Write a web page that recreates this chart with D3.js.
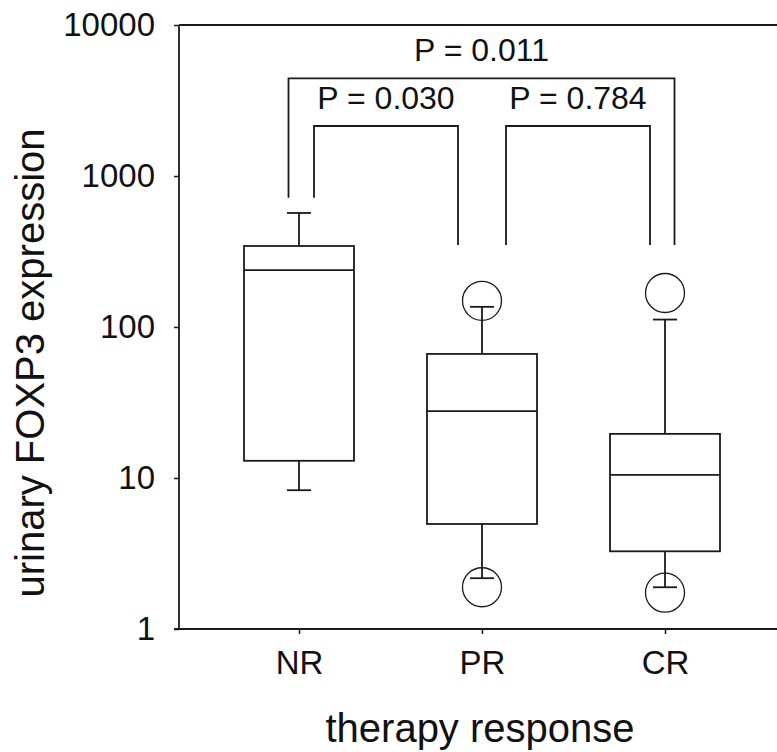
<!DOCTYPE html>
<html>
<head>
<meta charset="utf-8">
<script src="https://cdn.jsdelivr.net/npm/d3@7"></script>
<style>
  html, body { margin: 0; padding: 0; background: #fff; }
  svg { display: block; }
  text { font-family: "Liberation Sans", Arial, sans-serif; fill: #111; }
</style>
</head>
<body>
<svg id="chart" width="777" height="752"></svg>
<script>
// Box plot summary per therapy-response group (log scale)
const groups = ["NR", "PR", "CR"];
const lowerWhisker = [8.3, 2.17, 1.89];
const q1 = [13.0, 4.96, 3.27];
const median = [238, 27.7, 10.5];
const q3 = [344, 66.3, 19.6];
const upperWhisker = [569, 136, 112];
const outliers = [[], [1.89, 149], [1.74, 168]];

const yTicks = [1, 10, 100, 1000, 10000];

// Pairwise comparisons drawn as brackets above the boxes
const comparePairs = [["NR", "PR"], ["PR", "CR"], ["NR", "CR"]];
const pLabels = ["P = 0.030", "P = 0.784", "P = 0.011"];
const bracketTop = [2143, 2143, 4436];
const bracketLegLeft = [718, 349, 718];
const bracketLegRight = [349, 349, 349];

const W = 777, H = 752;
const plotLeft = 179, plotTop = 25, plotBottom = 629, plotRight = 800;

const svg = d3.select("#chart");
svg.append("rect").attr("width", W).attr("height", H).attr("fill", "#fff");

const y = d3.scaleLog().domain([1, 10000]).range([plotBottom, plotTop]);
const x = d3.scalePoint().domain(groups).range([plotLeft + 120, plotLeft + 486]);

const stroke = "#1a1a1a";
const lw = 1.8;

// Frame: top border and the two axes
svg.append("line").attr("x1", plotLeft).attr("x2", plotRight)
  .attr("y1", plotTop).attr("y2", plotTop)
  .attr("stroke", stroke).attr("stroke-width", lw);

const yAxis = d3.axisLeft(y).tickValues(yTicks).tickFormat(d3.format("d"))
  .tickSize(5).tickPadding(19);
const gy = svg.append("g").attr("transform", `translate(${plotLeft},0)`).call(yAxis);
gy.select(".domain").attr("stroke", stroke).attr("stroke-width", lw)
  .attr("d", `M0,${plotTop}V${plotBottom}`);
gy.selectAll(".tick line").attr("stroke", stroke).attr("stroke-width", 1.5);
gy.selectAll(".tick text").style("font-size", "33px").attr("fill", "#111")
  .attr("font-family", "Liberation Sans, Arial, sans-serif");

const xAxis = d3.axisBottom(x).tickSize(5).tickPadding(17);
const gx = svg.append("g").attr("transform", `translate(0,${plotBottom})`).call(xAxis);
gx.select(".domain").attr("stroke", stroke).attr("stroke-width", lw)
  .attr("d", `M${plotLeft - 5},0H${plotRight}`);
gx.selectAll(".tick line").attr("stroke", stroke).attr("stroke-width", 1.5);
gx.selectAll(".tick text").style("font-size", "33px").attr("fill", "#111")
  .attr("font-family", "Liberation Sans, Arial, sans-serif");

// Axis titles
svg.append("text").attr("x", 480).attr("y", 742).attr("text-anchor", "middle")
  .style("font-size", "40px").text("therapy response");
svg.append("text")
  .attr("transform", `translate(44,${(plotTop + plotBottom) / 2 + 36}) rotate(-90)`)
  .attr("text-anchor", "middle").style("font-size", "40px")
  .text("urinary FOXP3 expression");

// Boxes
const boxW = 110, capW = 24;
const boxes = svg.append("g");
groups.forEach((g, i) => {
  const cx = x(g);
  const gg = boxes.append("g").attr("stroke", stroke).attr("stroke-width", lw).attr("fill", "none");
  // whiskers
  gg.append("line").attr("x1", cx).attr("x2", cx).attr("y1", y(q3[i])).attr("y2", y(upperWhisker[i]));
  gg.append("line").attr("x1", cx).attr("x2", cx).attr("y1", y(q1[i])).attr("y2", y(lowerWhisker[i]));
  gg.append("line").attr("x1", cx - capW / 2).attr("x2", cx + capW / 2)
    .attr("y1", y(upperWhisker[i])).attr("y2", y(upperWhisker[i]));
  gg.append("line").attr("x1", cx - capW / 2).attr("x2", cx + capW / 2)
    .attr("y1", y(lowerWhisker[i])).attr("y2", y(lowerWhisker[i]));
  // box and median
  gg.append("rect").attr("x", cx - boxW / 2).attr("width", boxW)
    .attr("y", y(q3[i])).attr("height", y(q1[i]) - y(q3[i])).attr("fill", "#fff");
  gg.append("line").attr("x1", cx - boxW / 2).attr("x2", cx + boxW / 2)
    .attr("y1", y(median[i])).attr("y2", y(median[i]));
  // outliers
  outliers[i].forEach(v => {
    gg.append("circle").attr("cx", cx).attr("cy", y(v)).attr("r", 19.5)
      .attr("stroke-width", 1.3);
  });
});

// Comparison brackets
const legOffsets = [[15, -24], [24, -15], [-10.5, 9.5]];
const br = svg.append("g");
comparePairs.forEach((p, i) => {
  const x1 = x(p[0]) + legOffsets[i][0];
  const x2 = x(p[1]) + legOffsets[i][1];
  const yt = y(bracketTop[i]);
  br.append("path")
    .attr("d", `M${x1},${y(bracketLegLeft[i])}V${yt}H${x2}V${y(bracketLegRight[i])}`)
    .attr("fill", "none").attr("stroke", stroke).attr("stroke-width", lw);
  br.append("text").attr("x", (x1 + x2) / 2).attr("y", yt - 17)
    .attr("text-anchor", "middle").style("font-size", "32px").text(pLabels[i]);
});
</script>
</body>
</html>
